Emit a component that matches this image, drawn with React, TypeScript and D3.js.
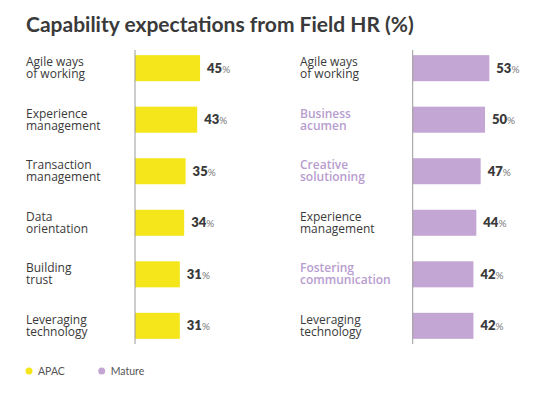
import React from 'react';
import * as d3 from 'd3';

// APAC panel
const apacLabels = [
  ['Agile ways', 'of working'],
  ['Experience', 'management'],
  ['Transaction', 'management'],
  ['Data', 'orientation'],
  ['Building', 'trust'],
  ['Leveraging', 'technology'],
];
const apacValues = [45, 43, 35, 34, 31, 31];

// Mature panel
const matureLabels = [
  ['Agile ways', 'of working'],
  ['Business', 'acumen'],
  ['Creative', 'solutioning'],
  ['Experience', 'management'],
  ['Fostering', 'communication'],
  ['Leveraging', 'technology'],
];
const matureValues = [53, 50, 47, 44, 42, 42];
const matureHighlight = [false, true, true, false, true, false];

const legendItems = ['APAC', 'Mature'];

const YELLOW = '#f5e61c';
const PURPLE = '#c3a6d3';
const PURPLE_TEXT = '#b89dcf';
const TEXT = '#3a3a3a';
const FONT = 'Lato, "Open Sans", sans-serif';
const LABEL_FONT = '"Open Sans", sans-serif';

const y = d3.scaleBand<number>()
  .domain(d3.range(6))
  .range([50, 344])
  .paddingInner(0.495)
  .paddingOuter(0.1);

function Panel({ labels, values, color, labelX, axisX, highlight }: any) {
  const x = d3.scaleLinear().domain([0, 100]).range([axisX, axisX + 144.6]);
  return (
    <g>
      {values.map((v: number, i: number) => {
        const top = y(i)!;
        const cy = top + y.bandwidth() / 2;
        const hl = highlight && highlight[i];
        return (
          <g key={i}>
            <rect x={x(0)} y={top} width={x(v) - x(0)} height={y.bandwidth()} fill={color} />
            <text x={labelX} y={cy - 2} fontSize={12} fontFamily={LABEL_FONT}
              fill={hl ? PURPLE_TEXT : TEXT} fontWeight={hl ? 600 : 400}>
              <tspan x={labelX}>{labels[i][0]}</tspan>
              <tspan x={labelX} dy={12}>{labels[i][1]}</tspan>
            </text>
            <text x={x(v) + 7} y={cy + 4.5} fontSize={13} fontWeight={800} fill={TEXT}>
              {v}
              <tspan fontSize={10} fontWeight={400} fill="#777">%</tspan>
            </text>
          </g>
        );
      })}
      <line x1={axisX} x2={axisX} y1={y.range()[0]} y2={y.range()[1]} stroke="#9a9a9a" strokeWidth={1} />
    </g>
  );
}

export default function App() {
  const legendColors = [YELLOW, PURPLE];
  const legendX = [29, 101.7];
  return (
    <div style={{ position: 'absolute', left: 0, top: 0 }}>
      <svg width={537} height={398} style={{ fontFamily: FONT, display: 'block' }}>
        <rect width={537} height={398} fill="#fff" />
        <text x={26} y={31.5} fontSize={21} fontWeight={700} fill={TEXT}>
          Capability expectations from Field HR (%)
        </text>
        <Panel labels={apacLabels} values={apacValues} color={YELLOW} labelX={26} axisX={135} />
        <Panel labels={matureLabels} values={matureValues} color={PURPLE} labelX={300} axisX={412.7} highlight={matureHighlight} />
        {legendItems.map((d, i) => (
          <g key={d}>
            <circle cx={legendX[i]} cy={371} r={3.5} fill={legendColors[i]} />
            <text x={legendX[i] + 9} y={374.5} fontSize={10.5} fill="#555">{d}</text>
          </g>
        ))}
      </svg>
    </div>
  );
}
